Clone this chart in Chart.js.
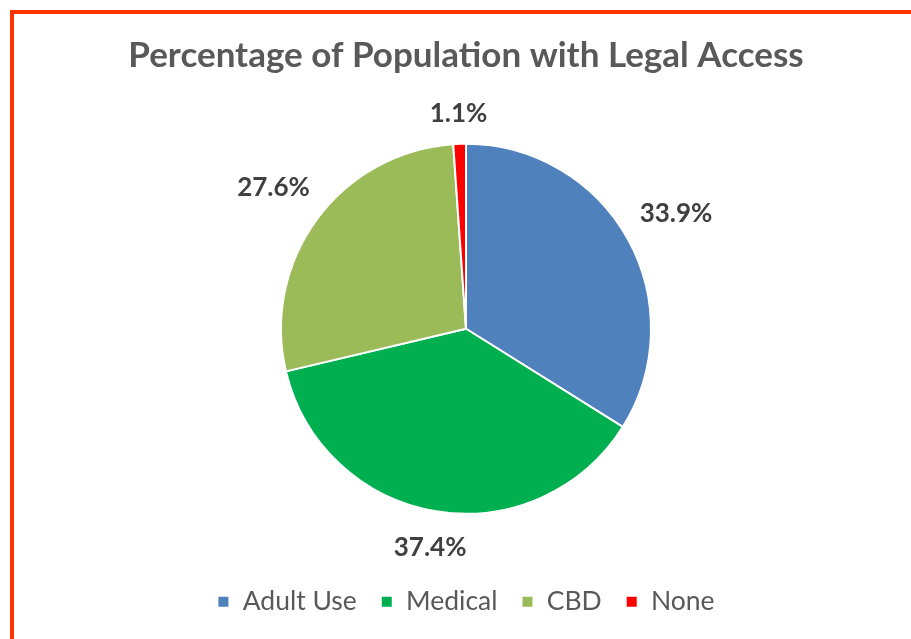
<!DOCTYPE html>
<html>
<head>
<meta charset="utf-8">
<script src="https://cdn.jsdelivr.net/npm/chart.js@4/dist/chart.umd.min.js"></script>
<style>
  html, body { margin: 0; padding: 0; background: #fff; overflow: hidden; }
  #wrap { position: relative; width: 911px; height: 639px; }
  #frame { position: absolute; left: 10px; top: 10px; width: 1000px; height: 1000px;
           border: 4px solid #ff3300; box-sizing: border-box; }
  canvas { position: absolute; left: 0; top: 0; }
</style>
</head>
<body>
<div id="wrap">
  <div id="frame"></div>
  <canvas id="pieChart" width="911" height="639"></canvas>
</div>
<script>
// Legal access shares
const categories = ['Adult Use', 'Medical', 'CBD', 'None'];
const shares = [33.9, 37.4, 27.6, 1.1];
const sliceColors = ['#4f81bd', '#00b050', '#9bbb59', '#ff0000'];

// percent labels placed just outside each slice
const outsideLabels = {
  id: 'outsideLabels',
  afterDatasetsDraw(chart) {
    const ctx = chart.ctx;
    const meta = chart.getDatasetMeta(0);
    ctx.save();
    ctx.font = 'bold 26px Lato';
    ctx.fillStyle = '#404040';
    ctx.textAlign = 'center';
    ctx.textBaseline = 'middle';
    meta.data.forEach((arc, i) => {
      const mid = (arc.startAngle + arc.endAngle) / 2;
      const dx = Math.cos(mid), dy = Math.sin(mid);
      const text = shares[i].toFixed(1) + '%';
      const w = ctx.measureText(text).width;
      const r = arc.outerRadius + 17 + Math.abs(dx) * w / 2 + Math.abs(dy) * 13;
      ctx.fillText(text, arc.x + dx * r, arc.y + dy * r + 1);
    });
    ctx.restore();
  }
};

const ctx = document.getElementById('pieChart').getContext('2d');
const pieChart = new Chart(ctx, {
  type: 'pie',
  data: {
    labels: categories,
    datasets: [{
      data: shares,
      backgroundColor: sliceColors,
      borderColor: '#ffffff',
      borderWidth: 2,
      radius: 185
    }]
  },
  options: {
    responsive: false,
    animation: false,
    layout: { padding: { left: 21, right: 0, top: 0, bottom: 14 } },
    plugins: {
      title: {
        display: true,
        text: 'Percentage of Population with Legal Access',
        color: '#595959',
        font: { family: 'Lato', size: 35, weight: 'bold' },
        padding: { top: 35, bottom: 16 }
      },
      legend: {
        position: 'bottom',
        labels: {
          color: '#595959',
          font: { family: 'Lato', size: 26.5 },
          boxWidth: 12,
          boxHeight: 12,
          padding: 24
        }
      },
      tooltip: { enabled: false }
    }
  },
  plugins: [outsideLabels]
});
</script>
</body>
</html>
